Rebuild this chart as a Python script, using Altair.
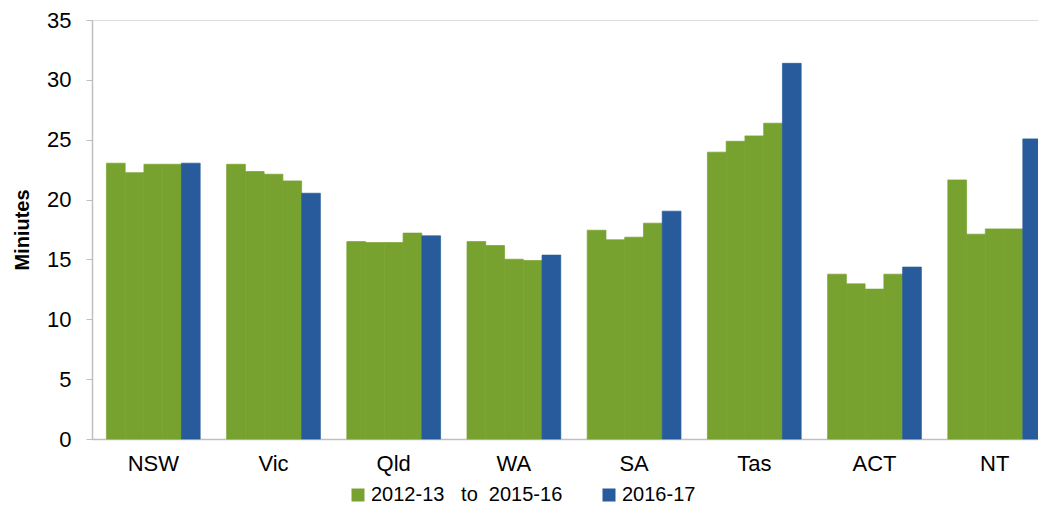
import altair as alt
import pandas as pd

states = ["NSW", "Vic", "Qld", "WA", "SA", "Tas", "ACT", "NT"]
years = ["2012-13", "2013-14", "2014-15", "2015-16", "2016-17"]
v_2012_13 = [23.04, 22.95, 16.49, 16.49, 17.44, 23.96, 13.77, 21.64]
v_2013_14 = [22.25, 22.34, 16.41, 16.16, 16.64, 24.87, 12.96, 17.11]
v_2014_15 = [22.95, 22.12, 16.41, 15.02, 16.86, 25.32, 12.52, 17.55]
v_2015_16 = [22.95, 21.56, 17.20, 14.91, 18.03, 26.38, 13.77, 17.55]
v_2016_17 = [23.04, 20.53, 16.97, 15.36, 19.03, 31.38, 14.36, 25.07]
series = [v_2012_13, v_2013_14, v_2014_15, v_2015_16, v_2016_17]
green_label = "2012-13\u00a0\u00a0\u00a0to\u00a0\u00a02015-16"
blue_label = "2016-17"
y_ticks = [0, 5, 10, 15, 20, 25, 30, 35]

rows = []
for i, s in enumerate(states):
    for yr, vals in zip(years, series):
        rows.append({
            "state": s,
            "year": yr,
            "value": vals[i],
            "period": blue_label if yr == "2016-17" else green_label,
        })
df = pd.DataFrame(rows)

FONT = "Liberation Sans"
COLORS = ["#78A22F", "#275B9B"]

chart = alt.Chart(df).mark_bar(strokeWidth=0.7).encode(
    x=alt.X(
        "state:N",
        sort=states,
        scale=alt.Scale(range=[0, 964], paddingInner=0.22, paddingOuter=0.12),
        axis=alt.Axis(
            title=None, labelAngle=0, labelFontSize=22, labelFont=FONT,
            labelColor="#000000", ticks=False, domainColor="#BFBFBF",
            domainWidth=1.5, labelPadding=14,
        ),
    ),
    xOffset=alt.XOffset(
        "year:N", sort=years, scale=alt.Scale(paddingInner=0, paddingOuter=0)
    ),
    y=alt.Y(
        "value:Q",
        scale=alt.Scale(domain=[0, 35]),
        axis=alt.Axis(
            title="Miniutes", values=y_ticks, grid=False,
            labelFontSize=22, labelFont=FONT, labelColor="#000000",
            labelPadding=15, tickSize=6, tickColor="#BFBFBF",
            domainColor="#BFBFBF", domainWidth=1.5,
            titleFontSize=20, titleFont=FONT, titleFontWeight="bold",
            titleColor="#000000", titlePadding=14,
        ),
    ),
    color=alt.Color(
        "period:N",
        scale=alt.Scale(domain=[green_label, blue_label], range=COLORS),
        legend=alt.Legend(
            title=None, orient="none", legendX=256, legendY=465,
            direction="horizontal", symbolType="square", symbolSize=169,
            symbolStrokeWidth=0, labelFontSize=20, labelFont=FONT,
            labelColor="#000000", labelOffset=3, columnPadding=36, padding=0,
            labelLimit=0,
        ),
    ),
    stroke=alt.Stroke(
        "period:N",
        scale=alt.Scale(domain=[green_label, blue_label], range=COLORS),
        legend=None,
    ),
).properties(
    width=946,
    height=419,
    autosize=alt.AutoSizeParams(type="none"),
    padding={"left": 84, "top": 12, "right": 0, "bottom": 70},
).configure_view(stroke=None).configure(font=FONT)

chart.save("out.html", embed_options={"renderer": "svg", "actions": False})
